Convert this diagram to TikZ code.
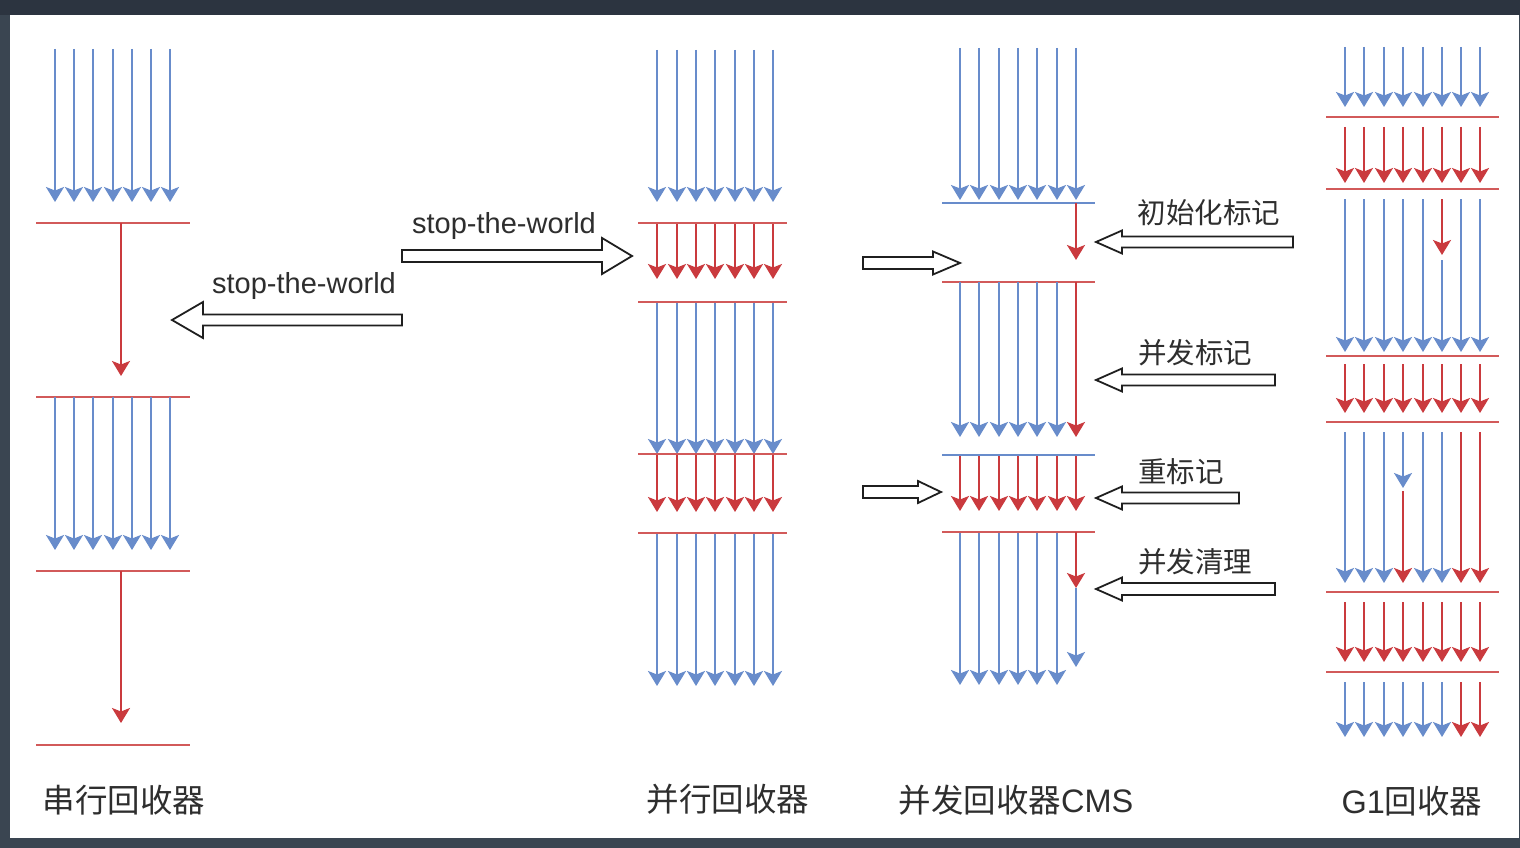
\documentclass[tikz,border=0pt]{standalone}
\usepackage{fontspec}
\setmainfont{Liberation Sans}
\newfontfamily\cjk{Noto Sans CJK SC}
\usetikzlibrary{arrows.meta}
\definecolor{bgtop}{HTML}{2C3440}
\definecolor{bgside}{HTML}{3A4551}
\definecolor{gcblue}{RGB}{104,140,203}
\definecolor{gcred}{RGB}{202,58,62}
\definecolor{gcline}{RGB}{210,90,90}
\definecolor{txt}{HTML}{2E2E2E}
\newcommand{\harrow}[6]{% tipx, cy, basex, tailx, shafthalf, headhalf
  \draw[hollow] (#4,#2-#5) -- (#3,#2-#5) -- (#3,#2-#6) -- (#1,#2) -- (#3,#2+#6) -- (#3,#2+#5) -- (#4,#2+#5) -- cycle;}
\begin{document}
\begin{tikzpicture}[x=1pt,y=-1pt,
  ba/.style={draw=gcblue,line width=2pt,-{Stealth[length=15pt,width=18pt,inset=3.5pt]}},
  ra/.style={draw=gcred,line width=2pt,-{Stealth[length=15pt,width=18pt,inset=3.5pt]}},
  rl/.style={draw=gcline,line width=2pt},
  bl/.style={draw=gcblue,line width=2pt},
  hollow/.style={draw=black!88,line width=1.8pt,fill=white,line join=miter},
  lbl/.style={text=txt,inner sep=0pt,font=\fontsize{29}{31}\selectfont},
  clbl/.style={text=txt,inner sep=0pt,font=\fontsize{28.5}{31}\selectfont},
  ttl/.style={text=txt,inner sep=0pt,font=\fontsize{32.5}{34}\selectfont}]
\useasboundingbox (0,0) rectangle (1520,848);
\fill[bgside] (0,0) rectangle (1520,848);
\fill[bgtop] (0,0) rectangle (1520,15);
\fill[white] (10,15) rectangle (1519,838);

% ---------- serial ----------
\foreach \x in {55,74,93,113,132,151,170} \draw[ba] (\x,49) -- (\x,202);
\draw[rl] (36,223) -- (190,223);
\draw[ra] (121,223) -- (121,376);
\draw[rl] (36,397) -- (190,397);
\foreach \x in {55,74,93,113,132,151,170} \draw[ba] (\x,397) -- (\x,550);
\draw[rl] (36,571) -- (190,571);
\draw[ra] (121,571) -- (121,723);
\draw[rl] (36,745) -- (190,745);
\node[ttl] (t1) at (124,800) {\cjk 串行回收器};

% ---------- parallel ----------
\foreach \x in {657,677,696,715,735,754,773} {
  \draw[ba] (\x,50) -- (\x,202);
  \draw[ra] (\x,223) -- (\x,279);
  \draw[ba] (\x,302) -- (\x,454);
  \draw[ra] (\x,454) -- (\x,512);
  \draw[ba] (\x,533) -- (\x,686);
}
\draw[rl] (638,223) -- (787,223);
\draw[rl] (638,302) -- (787,302);
\draw[rl] (638,454) -- (787,454);
\draw[rl] (638,533) -- (787,533);
\node[ttl] (t2) at (728,799) {\cjk 并行回收器};

% ---------- CMS ----------
\foreach \x in {960,979,999,1018,1037,1057,1076} {
  \draw[ba] (\x,48) -- (\x,200);
  \draw[ra] (\x,455) -- (\x,511);
}
\draw[bl] (942,203) -- (1095,203);
\draw[ra] (1076,203) -- (1076,260);
\draw[rl] (942,282) -- (1095,282);
\foreach \x in {960,979,999,1018,1037,1057} {
  \draw[ba] (\x,282) -- (\x,437);
  \draw[ba] (\x,532) -- (\x,685);
}
\draw[ra] (1076,282) -- (1076,437);
\draw[bl] (942,455) -- (1095,455);
\draw[rl] (942,532) -- (1095,532);
\draw[ra] (1076,532) -- (1076,588);
\draw[ba] (1076,588) -- (1076,667);
\node[ttl] (t3) at (1016,800) {\cjk 并发回收器\rmfamily CMS};

% ---------- G1 ----------
\foreach \x in {1345,1364,1384,1403,1423,1442,1461,1480} {
  \draw[ba] (\x,47) -- (\x,107);
  \draw[ra] (\x,127) -- (\x,183);
  \draw[ra] (\x,364) -- (\x,413);
  \draw[ra] (\x,602) -- (\x,662);
}
\foreach \x in {1345,1364,1384,1403,1423,1461,1480} \draw[ba] (\x,199) -- (\x,352);
\draw[ra] (1442,199) -- (1442,255);
\draw[ba] (1442,260) -- (1442,352);
\foreach \x in {1345,1364,1384,1423,1442} \draw[ba] (\x,432) -- (\x,583);
\draw[ba] (1403,432) -- (1403,488);
\draw[ra] (1403,491) -- (1403,583);
\foreach \x in {1461,1480} \draw[ra] (\x,432) -- (\x,583);
\foreach \x in {1345,1364,1384,1403,1423,1442} \draw[ba] (\x,682) -- (\x,737);
\foreach \x in {1461,1480} \draw[ra] (\x,682) -- (\x,737);
\foreach \y in {117,189,356,422,592,672} \draw[rl] (1326,\y) -- (1499,\y);
\node[ttl] (t4) at (1412,801) {G1\cjk 回收器};

% ---------- hollow arrows ----------
\harrow{632}{256}{602}{402}{6}{18}
\harrow{172}{320}{203}{402}{5.5}{18}
\harrow{960}{263}{933}{863}{6}{11.5}
\harrow{941}{492}{918}{863}{6}{11}
\harrow{1096}{242}{1122}{1293}{5.5}{11.5}
\harrow{1096}{380}{1122}{1275}{5.5}{11.5}
\harrow{1096}{498}{1122}{1239}{5.5}{11.5}
\harrow{1096}{589}{1122}{1275}{6}{11.5}

% ---------- labels ----------
\node[lbl] (s1) at (504,226) {stop-the-world};
\node[lbl] (s2) at (304,286) {stop-the-world};
\node[clbl] (c1) at (1209,213) {\cjk 初始化标记};
\node[clbl] (c2) at (1195,353) {\cjk 并发标记};
\node[clbl] (c3) at (1181,472) {\cjk 重标记};
\node[clbl] (c4) at (1195,562) {\cjk 并发清理};
\end{tikzpicture}
\end{document}
